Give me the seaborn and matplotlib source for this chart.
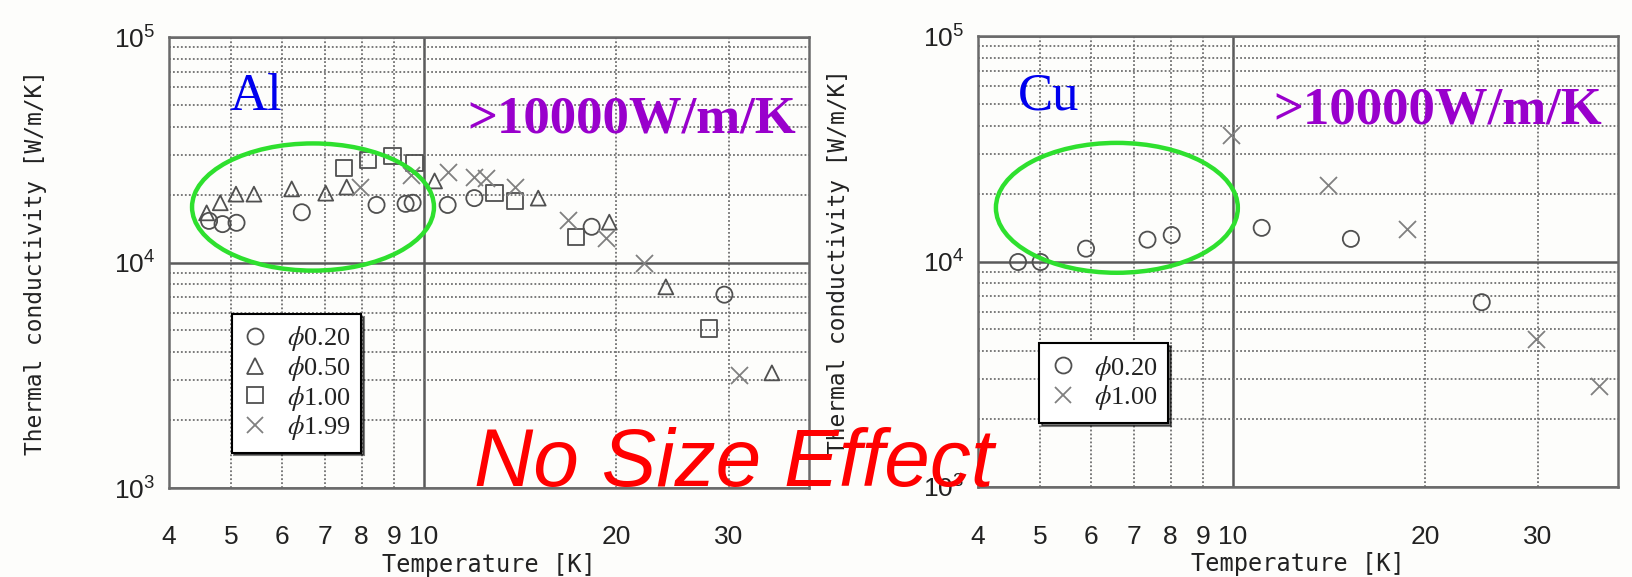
import numpy as np
import pandas as pd
import matplotlib
matplotlib.use("Agg")
import matplotlib.pyplot as plt
import seaborn as sns
from matplotlib.patches import Ellipse
from matplotlib.lines import Line2D
from matplotlib.ticker import NullFormatter, LogLocator, FixedLocator

# ---------------- data ----------------
al_d020_T = [4.62, 4.85, 5.10, 6.45, 8.44, 9.37, 9.61, 10.9, 12.0, 18.3, 29.5]
al_d020_k = [15300, 14800, 15000, 16700, 18000, 18200, 18400, 18000, 19300, 14400, 7200]
al_d050_T = [4.58, 4.81, 5.09, 5.43, 6.22, 7.03, 7.58, 10.4, 15.1, 19.5, 23.9, 35.0]
al_d050_k = [16600, 18400, 20100, 20100, 21200, 20300, 21600, 23000, 19300, 15100, 7800, 3240]
al_d100_T = [7.50, 8.18, 8.94, 9.68, 12.9, 13.9, 17.3, 27.9]
al_d100_k = [26300, 28500, 29700, 27600, 20300, 18700, 13000, 5100]
al_d199_T = [7.95, 9.57, 10.9, 12.0, 12.5, 13.9, 16.8, 19.3, 22.1, 31.1]
al_d199_k = [21600, 24400, 25200, 23900, 23700, 21600, 15400, 12800, 9950, 3170]

cu_d020_T = [4.62, 5.01, 5.90, 7.36, 8.03, 11.1, 15.3, 24.5]
cu_d020_k = [9950, 9950, 11400, 12500, 13100, 14100, 12600, 6600]
cu_d100_T = [9.93, 14.1, 18.7, 29.8, 37.4]
cu_d100_k = [36400, 21900, 14000, 4530, 2800]

al_labels = [r"$\phi$0.20", r"$\phi$0.50", r"$\phi$1.00", r"$\phi$1.99"]
cu_labels = [r"$\phi$0.20", r"$\phi$1.00"]
x_tick_vals = [4, 5, 6, 7, 8, 9, 20, 30]
x_tick_labels = ["4", "5", "6", "7", "8", "9", "20", "30"]

# ---------------- style ----------------
sns.set_style("white")
plt.rcParams["font.family"] = ["Liberation Sans", "DejaVu Sans"]
plt.rcParams["mathtext.fontset"] = "stix"

fig = plt.figure(figsize=(16.33, 5.77), dpi=100)
fig.patch.set_facecolor("#fdfdfb")
W, H = 1633, 577
ax1 = fig.add_axes([169 / W, (H - 488) / H, 640 / W, 451 / H])
ax2 = fig.add_axes([978 / W, (H - 487) / H, 640 / W, 451 / H])

DARK = "#505050"
LIGHT = "#808080"
series_style = {
    "o": dict(marker="o", s=135, facecolor="none", edgecolor=DARK, linewidth=1.3),
    "^": dict(marker="^", s=115, facecolor="none", edgecolor=DARK, linewidth=1.3),
    "s": dict(marker="s", s=140, facecolor="none", edgecolor=DARK, linewidth=1.3),
    "x": dict(marker="x", s=150, color=LIGHT, linewidth=1.3),
}


def style_axis(ax, ylab_x):
    ax.set_facecolor("#fdfdfb")
    ax.set_xscale("log")
    ax.set_yscale("log")
    ax.set_xlim(4, 40)
    ax.set_ylim(1e3, 1e5)
    ax.xaxis.set_major_locator(FixedLocator([10]))
    ax.set_xticks([10], labels=["10"])
    ax.set_xticks(x_tick_vals, labels=x_tick_labels, minor=True)
    ax.yaxis.set_major_locator(LogLocator(base=10))
    ax.yaxis.set_minor_locator(LogLocator(base=10, subs=range(2, 10)))
    ax.yaxis.set_minor_formatter(NullFormatter())
    ax.set_axisbelow(True)
    ax.grid(True, which="major", color="#5a5a5a", lw=1.8, ls="-")
    ax.grid(True, which="minor", color="#707070", lw=1.3, ls=(0, (1, 1.2)))
    ax.tick_params(axis="both", which="both", length=0, labelsize=19,
                   colors="#222222")
    ax.tick_params(axis="x", which="both", pad=27)
    ax.tick_params(axis="y", which="both", pad=10)
    for sp in ax.spines.values():
        sp.set_color("#6a6a6a")
        sp.set_linewidth(1.8)
        sp.set_visible(True)
    ax.set_xlabel("Temperature [K]", family="DejaVu Sans Mono", fontsize=17,
                  color="#222222")
    ax.set_ylabel("Thermal conductivity [W/m/K]", family="DejaVu Sans Mono",
                  fontsize=16.5, color="#222222")
    ax.xaxis.set_label_coords(0.5, -0.145)
    ax.yaxis.set_label_coords(ylab_x, 0.5)


# ---------------- left panel : Al ----------------
for T, k, m in [(al_d020_T, al_d020_k, "o"), (al_d050_T, al_d050_k, "^"),
                (al_d100_T, al_d100_k, "s"), (al_d199_T, al_d199_k, "x")]:
    sns.scatterplot(x=T, y=k, ax=ax1, legend=False, zorder=3, **series_style[m])
style_axis(ax1, -0.19)

# ---------------- right panel : Cu ----------------
for T, k, m in [(cu_d020_T, cu_d020_k, "o"), (cu_d100_T, cu_d100_k, "x")]:
    sns.scatterplot(x=T, y=k, ax=ax2, legend=False, zorder=3, **series_style[m])
style_axis(ax2, -0.2)


def handle(m):
    if m == "x":
        return Line2D([], [], ls="none", marker="x", color=LIGHT, ms=12, mew=1.3)
    return Line2D([], [], ls="none", marker=m, mfc="none", mec=DARK, ms=11.5,
                  mew=1.3)


leg_kw = dict(loc="upper left", borderaxespad=0, fancybox=False,
              shadow={"color": "black"}, framealpha=1, edgecolor="black",
              prop={"family": "Liberation Serif", "size": 19},
              labelspacing=0.02, handlelength=1.0, handletextpad=0.7,
              borderpad=0.4, labelcolor="#222222")
leg1 = ax1.legend([handle(m) for m in ["o", "^", "s", "x"]], al_labels,
                  bbox_to_anchor=(0.098, 0.386), **leg_kw)
leg1.get_frame().set_linewidth(1.5)
leg2 = ax2.legend([handle(m) for m in ["o", "x"]], cu_labels,
                  bbox_to_anchor=(0.095, 0.319), **leg_kw)
leg2.get_frame().set_linewidth(1.5)

# ---------------- annotations ----------------
GREEN = "#2ee02e"
ax1.add_patch(Ellipse((0.225, 0.623), 0.378, 0.282, transform=ax1.transAxes,
                      fill=False, ec=GREEN, lw=3.2, zorder=5, clip_on=False))
ax2.add_patch(Ellipse((0.217, 0.619), 0.378, 0.288, transform=ax2.transAxes,
                      fill=False, ec=GREEN, lw=3.2, zorder=5, clip_on=False))

ax1.text(0.094, 0.838, "Al", transform=ax1.transAxes, family="Liberation Serif",
         fontsize=38, color="#0000ee", va="baseline", zorder=6)
ax2.text(0.0625, 0.836, "Cu", transform=ax2.transAxes, family="Liberation Serif",
         fontsize=38, color="#0000ee", va="baseline", zorder=6)

PURPLE = "#9900cc"
ax1.text(0.466, 0.789, ">10000W/m/K", transform=ax1.transAxes,
         family="Liberation Serif", fontweight="bold", fontsize=38, color=PURPLE,
         va="baseline", zorder=6)
ax2.text(0.461, 0.807, ">10000W/m/K", transform=ax2.transAxes,
         family="Liberation Serif", fontweight="bold", fontsize=38, color=PURPLE,
         va="baseline", zorder=6)

fig.text(474 / W, (H - 486) / H, "No Size Effect", family="Liberation Sans",
         style="italic", fontsize=59, color="#ff0000", va="baseline", zorder=10)

fig.savefig("out.png", dpi=100, facecolor=fig.get_facecolor())
